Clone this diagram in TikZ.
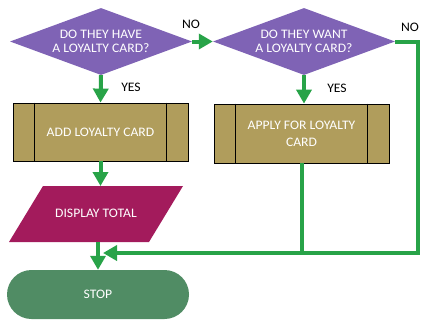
\documentclass[tikz,border=0pt]{standalone}
\usepackage{fontspec}
\setmainfont[FakeStretch=1.05]{Carlito}
\usetikzlibrary{shapes.geometric,shapes.misc,arrows.meta}
\definecolor{dpurple}{HTML}{7F63B5}
\definecolor{dtan}{HTML}{B09D5C}
\definecolor{dmag}{HTML}{A31B5C}
\definecolor{dstop}{HTML}{508C64}
\definecolor{dgreen}{HTML}{28A348}
\tikzset{
  x=1pt, y=-1pt,
  txt/.style={text=white, font=\fontsize{13}{14.5}\selectfont, align=center},
  decision/.style={diamond, fill=dpurple, inner sep=0pt, minimum width=182pt, minimum height=67pt, aspect=2.716, txt},
  procbox/.style={rectangle, draw=black, line width=0.8pt, fill=dtan, minimum width=175pt, minimum height=58pt, inner sep=0pt, txt},
  stopbox/.style={rounded rectangle, fill=dstop, minimum width=182pt, minimum height=49pt, inner sep=0pt, txt},
  flow/.style={draw=dgreen, line width=4pt, -{Triangle[width=15pt,length=14pt]}},
  flowline/.style={draw=dgreen, line width=4pt},
  lbl/.style={text=black, font=\fontsize{13}{15}\selectfont, inner sep=0pt}
}
\begin{document}
\begin{tikzpicture}
\useasboundingbox (0,0) rectangle (430,330);
% decisions
\node[decision] (d1) at (101,41.5) {DO THEY HAVE\\A LOYALTY CARD?};
\node[decision] (d2) at (304,41.5) {DO THEY WANT\\A LOYALTY CARD?};
% process boxes
\node[procbox] (b1) at (100.5,132) {ADD LOYALTY CARD};
\draw[line width=0.8pt] ([xshift=22pt]b1.north west) -- ([xshift=22pt]b1.south west);
\draw[line width=0.8pt] ([xshift=-22pt]b1.north east) -- ([xshift=-22pt]b1.south east);
\node[procbox, minimum height=59pt, font=\fontsize{13}{17}\selectfont] (b2) at (301.5,133.5) {APPLY FOR LOYALTY\\CARD};
\draw[line width=0.8pt] ([xshift=22pt]b2.north west) -- ([xshift=22pt]b2.south west);
\draw[line width=0.8pt] ([xshift=-22pt]b2.north east) -- ([xshift=-22pt]b2.south east);
% display (parallelogram)
\fill[dmag] (43,186) -- (183,186) -- (149,242) -- (9,242) -- cycle;
\node[txt] (disp) at (96,213) {DISPLAY TOTAL};
\coordinate (dtop) at (100.5,186);
\coordinate (dbot) at (98,242);
% stop
\node[stopbox] (stop) at (98,294.5) {STOP};
% labels
\node[lbl] (no1) at (191,24) {NO};
\node[lbl] (no2) at (410,27) {NO};
\node[lbl] (yes1) at (131,87) {YES};
\node[lbl] (yes2) at (337,88) {YES};
% connectors
\coordinate (c1) at (418,253);
\coordinate (j) at (103,253);
\draw[flowline] (b2.south) -- (b2.south |- c1);
\draw[flow] (d2.east) -| (c1) -- (j);
\draw[flow] (d1.east) -- (d2.west);
\draw[flow] (d1.south) -- (b1.north);
\draw[flow] (d2.south) -- (d2.south |- b2.north);
\draw[flow] (b1.south) -- (b1.south |- dtop);
\draw[flow] (dbot) -- (dbot |- stop.north);
\end{tikzpicture}
\end{document}
